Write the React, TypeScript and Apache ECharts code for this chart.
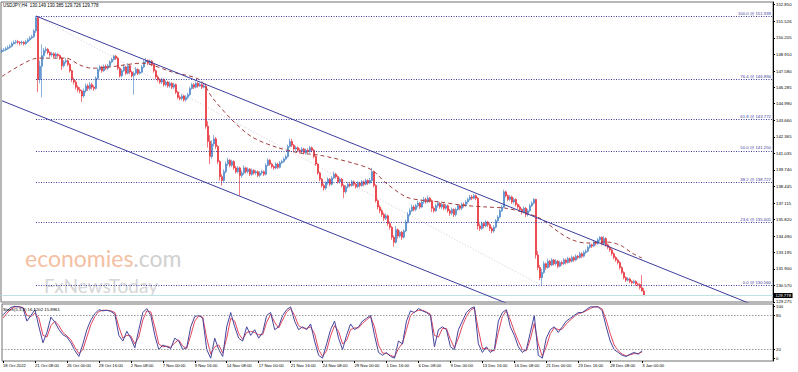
import React, { useEffect, useRef } from 'react';
import * as echarts from 'echarts';

// ---------- data ----------
const firstOpen = 149.1;
const closes = [
  149.20,149.25,149.35,149.45,149.55,149.75,149.85,149.90,149.85,149.80,
  149.85,149.75,149.90,150.05,150.20,150.30,150.75,151.80,146.90,147.95,
  148.80,149.20,149.30,149.05,148.85,148.95,148.75,148.90,148.80,148.60,
  148.00,148.30,148.40,148.10,147.60,146.90,146.70,146.30,146.10,146.00,
  145.60,146.00,146.40,146.20,146.50,146.30,146.20,147.00,147.70,147.90,
  147.60,147.95,147.80,148.00,148.30,148.50,148.75,148.60,147.80,147.20,
  147.60,147.90,147.40,148.00,147.50,147.20,147.40,147.70,147.40,147.50,
  147.90,148.30,148.40,148.20,148.35,148.10,147.60,147.10,146.90,146.70,
  146.90,146.50,146.70,146.40,146.60,146.30,146.50,145.90,145.50,145.40,
  145.60,145.30,145.50,145.70,146.20,146.50,146.30,146.60,146.40,146.50,
  146.30,146.40,143.20,142.00,140.80,141.80,142.20,141.60,140.40,139.20,
  138.90,139.60,140.20,140.50,140.10,140.40,139.90,139.60,139.90,139.30,
  139.50,139.90,139.60,139.80,139.40,139.70,139.50,139.60,139.30,139.50,
  139.60,139.40,140.10,140.50,140.20,140.00,139.90,140.20,139.95,140.30,
  140.40,140.60,140.80,141.60,142.00,141.70,141.40,141.50,141.30,141.20,
  141.40,141.10,141.30,141.20,141.50,141.30,140.80,140.20,139.50,139.00,
  138.50,138.30,138.70,139.00,138.60,139.10,139.40,139.20,138.80,139.00,
  138.50,138.00,138.40,138.60,138.50,138.80,138.60,138.40,138.70,138.50,
  138.80,138.60,138.90,138.70,138.90,139.60,138.50,137.30,136.80,136.50,
  136.20,135.90,136.10,135.50,135.20,134.40,134.00,135.00,134.50,134.80,
  134.40,134.90,135.60,136.20,136.50,136.80,136.60,136.90,137.10,136.80,
  137.20,137.40,137.20,137.50,137.30,136.70,136.50,136.90,137.10,136.80,
  137.00,136.70,136.90,136.50,136.30,136.60,136.20,136.60,136.90,136.70,
  137.00,136.90,137.20,137.40,137.60,137.50,137.70,137.50,135.30,135.10,
  135.50,135.30,135.60,135.40,135.10,134.90,135.20,135.70,136.00,136.50,
  136.80,138.00,137.70,137.40,137.60,137.20,137.40,137.00,136.80,136.60,
  136.40,136.70,136.20,136.50,136.90,137.10,137.40,133.00,132.00,131.20,
  131.60,132.30,132.00,132.50,132.20,132.60,132.30,132.50,132.10,132.40,
  132.30,132.60,132.40,132.70,132.50,132.80,132.60,132.90,132.80,133.10,
  132.90,133.20,133.30,133.60,133.80,133.70,134.00,133.90,134.20,134.40,
  133.90,134.30,133.80,133.60,133.40,133.10,132.80,132.60,132.40,132.00,
  131.60,131.20,131.00,131.10,130.90,130.80,130.90,130.70,130.65,130.40,
  130.149,129.778
];
const highs = [
  149.35,149.40,149.50,149.60,149.70,149.90,150.00,150.05,150.05,149.95,
  150.00,149.95,150.05,150.20,150.35,150.45,150.90,151.94,151.85,148.40,
  149.70,149.40,149.50,149.40,149.15,149.10,149.05,149.05,149.00,148.90,
  148.70,148.45,148.60,148.50,148.20,147.70,147.05,146.85,146.45,146.30,
  146.10,146.20,146.60,146.55,146.70,146.65,146.45,147.15,147.85,148.05,
  148.00,148.10,148.10,148.15,148.45,148.65,148.85,148.85,148.70,147.90,
  147.75,148.10,148.00,148.20,148.10,147.60,147.55,147.90,147.80,147.70,
  148.05,148.45,148.60,148.50,148.50,148.45,148.20,147.70,147.25,147.00,
  147.05,147.00,146.85,146.80,146.75,146.70,146.65,146.60,146.00,145.65,
  145.75,145.70,145.65,145.85,146.35,146.65,146.60,146.75,146.70,146.65,
  146.60,146.60,146.60,143.60,142.50,142.10,142.50,142.35,141.70,140.50,
  139.40,139.80,140.40,140.70,140.60,140.55,140.50,140.05,140.05,140.00,
  139.70,140.10,140.00,139.95,139.90,139.85,139.80,139.75,139.70,139.65,
  139.75,139.70,140.25,140.65,140.60,140.30,140.10,140.35,140.30,140.45,
  140.55,140.75,140.95,141.75,142.25,142.20,141.80,141.65,141.60,141.45,
  141.55,141.50,141.45,141.45,141.65,141.60,141.40,140.90,140.30,139.60,
  139.10,138.65,138.85,139.15,139.10,139.25,139.60,139.50,139.30,139.15,
  139.10,138.60,138.55,138.75,138.75,138.95,138.90,138.70,138.85,138.80,
  138.95,138.90,139.05,139.00,139.10,139.90,139.70,138.60,137.40,136.95,
  136.65,136.35,136.30,136.20,135.65,135.30,134.55,135.30,135.10,134.95,
  134.90,135.05,135.80,136.40,136.70,137.00,136.95,137.05,137.30,137.20,
  137.40,137.60,137.55,137.70,137.60,137.40,136.85,137.05,137.25,137.20,
  137.15,137.10,137.05,137.00,136.65,136.75,136.70,136.75,137.05,137.00,
  137.15,137.15,137.35,137.55,137.75,137.75,137.85,137.80,137.60,135.50,
  135.65,135.60,135.75,135.70,135.50,135.25,135.35,135.85,136.15,136.65,
  136.95,138.18,138.10,137.80,137.75,137.70,137.55,137.50,137.10,136.95,
  136.70,136.85,136.80,136.65,137.05,137.25,137.50,137.45,133.30,132.20,
  131.90,132.50,132.40,132.70,132.60,132.75,132.70,132.65,132.60,132.55,
  132.55,132.75,132.70,132.85,132.80,132.95,132.90,133.05,133.00,133.25,
  133.20,133.35,133.45,133.75,133.95,133.90,134.15,134.10,134.35,134.50,
  134.45,134.50,134.40,133.90,133.70,133.50,133.20,132.90,132.70,132.50,
  132.10,131.70,131.30,131.25,131.20,131.00,131.05,131.00,130.80,130.75,
  131.40,130.385
];
const lows = [
  149.00,149.10,149.15,149.25,149.35,149.45,149.65,149.70,149.70,149.60,
  149.65,149.60,149.65,149.80,149.95,150.10,150.20,150.60,145.90,146.60,
  145.50,148.50,149.00,148.90,148.70,148.70,148.60,148.60,148.65,148.45,
  147.66,147.85,148.15,147.95,147.45,146.70,146.50,146.10,145.90,145.80,
  145.12,145.45,145.85,146.00,146.05,146.10,146.00,146.10,146.90,147.55,
  147.45,147.50,147.65,147.65,147.90,148.20,148.40,148.45,147.65,147.05,
  147.05,147.50,147.25,147.30,147.35,147.05,145.70,147.25,147.25,147.30,
  147.40,147.80,148.20,148.05,148.10,147.95,147.45,146.95,146.75,146.55,
  146.55,146.35,146.35,146.25,146.25,146.15,146.15,145.75,145.35,145.25,
  145.25,145.15,145.15,145.35,145.60,146.10,146.15,146.20,146.25,146.30,
  146.15,146.20,143.00,141.50,140.20,140.60,141.60,141.40,140.20,138.90,
  138.50,138.75,139.45,140.05,139.95,139.95,139.75,139.45,139.45,137.70,
  139.10,139.35,139.45,139.45,139.25,139.25,139.35,139.35,139.15,139.15,
  139.35,139.25,139.30,140.00,140.05,139.85,139.75,139.80,139.80,139.85,
  140.20,140.30,140.50,140.70,141.50,141.55,141.25,141.25,141.15,141.05,
  141.05,140.95,140.95,141.05,141.10,141.15,140.65,140.05,139.35,138.85,
  138.35,138.10,138.15,138.55,138.45,138.50,139.00,139.05,138.65,138.65,
  138.35,137.50,137.85,138.25,138.35,138.40,138.45,138.25,138.30,138.35,
  138.40,138.45,138.50,138.55,138.60,138.80,138.35,137.15,136.60,136.30,
  136.00,135.70,135.75,135.30,135.00,134.20,133.65,133.90,134.30,134.35,
  134.20,134.30,134.80,135.50,136.05,136.40,136.45,136.45,136.75,136.65,
  136.70,137.05,137.05,137.10,137.15,136.40,136.35,136.40,136.75,136.65,
  136.65,136.55,136.55,136.35,136.10,136.15,136.00,136.05,136.50,136.55,
  136.55,136.75,136.80,137.05,137.30,137.35,137.40,137.35,135.00,134.90,
  134.95,135.10,135.20,135.20,134.90,134.70,134.75,135.10,135.55,135.90,
  136.40,136.70,137.55,137.25,137.25,137.05,137.05,136.85,136.65,136.45,
  136.20,136.30,136.00,136.05,136.40,136.80,137.00,132.70,131.80,131.00,
  130.56,131.50,131.80,131.90,132.00,132.10,132.15,132.15,131.95,132.00,
  132.15,132.20,132.25,132.30,132.35,132.40,132.45,132.50,132.65,132.70,
  132.75,132.80,133.05,133.20,133.50,133.55,133.60,133.75,133.80,134.05,
  133.75,133.80,133.65,133.45,133.25,132.95,132.65,132.45,132.25,131.85,
  131.45,131.05,130.85,130.90,130.75,130.65,130.70,130.55,130.50,130.25,
  130.10,129.726
];

// moving average (dashed), read at [bar, price]
const maPoints = [
  [0,147.15],[16,148.55],[20,148.6],[32,148.6],[39,148.05],[45,147.8],[54,147.9],
  [70,148.2],[85,147.5],[99,146.87],[105,145.5],[115,143.7],[125,142.35],[137,141.55],
  [149,141.08],[159,140.9],[175,140.3],[185,139.73],[192,138.7],[202,137.6],[209,137.35],
  [219,137.2],[229,136.96],[242,136.8],[252,136.7],[262,136.32],[269,135.9],[279,134.74],
  [285,134.2],[292,133.94],[302,134.03],[309,133.78],[315,133.15],[320,132.75]
];

// stochastic (5,3,3), read every 2nd bar
const STOCH_STEP = 2;
const stochK = [
  81,88,94,96,95,93,70,80,90,60,
  32,50,77,68,55,46,42,32,18,8,
  30,55,72,83,90,88,89,87,82,45,
  35,52,40,23,55,85,92,80,45,20,
  28,25,22,40,35,20,24,60,78,80,
  75,20,5,40,20,8,60,85,60,40,
  35,60,45,55,40,50,80,85,55,60,
  80,90,95,70,55,60,55,65,35,10,
  5,30,55,70,40,20,45,65,55,60,
  70,75,80,45,15,10,15,8,5,35,
  30,70,88,85,92,88,85,80,25,55,
  60,55,25,20,55,70,85,92,95,30,
  15,25,15,20,70,85,90,60,45,25,
  15,20,50,80,10,5,40,55,60,50,
  60,70,75,80,85,85,90,95,95,95,
  88,60,35,20,15,10,8,12,15,12,
  18
];
const stochD = [
  75,84,91,95,95,94,80,78,84,75,
  45,42,62,70,62,50,44,37,24,13,
  20,42,64,78,87,89,89,88,85,60,
  40,45,44,30,42,72,88,86,60,30,
  25,26,24,32,37,26,22,45,70,79,
  77,40,12,25,28,14,40,75,70,48,
  38,50,52,50,46,46,68,82,68,58,
  72,86,92,80,62,58,57,60,48,20,
  8,18,44,62,52,30,36,55,58,58,
  66,72,78,60,28,14,13,10,7,22,
  31,55,80,86,89,89,86,82,45,42,
  57,57,38,23,40,62,78,89,93,55,
  22,22,19,18,50,78,88,72,52,35,
  20,18,38,66,30,8,25,48,58,55,
  56,65,72,78,83,85,88,92,95,95,
  91,72,48,28,18,12,9,11,13,13,
  16
];

const priceTicks = [152.850,151.526,150.205,148.910,147.580,146.285,144.990,143.660,142.365,141.035,139.740,138.445,137.115,135.820,134.490,133.195,131.900,130.570,129.275];
const xTickLabels = ['18 Oct 2022','21 Oct 08:00','26 Oct 00:00','28 Oct 16:00','2 Nov 08:00','7 Nov 00:00','9 Nov 16:00','14 Nov 08:00','17 Nov 00:00','21 Nov 16:00','24 Nov 08:00','29 Nov 00:00','1 Dec 16:00','6 Dec 08:00','9 Dec 00:00','13 Dec 16:00','16 Dec 08:00','21 Dec 00:00','23 Dec 16:00','28 Dec 08:00','3 Jan 00:00'];
const LABEL_STEP = 16;

const fibPct = ['100.0','76.4','61.8','50.0','38.2','23.6','0.0'];
const fibValues = [151.939,146.894,143.772,141.250,138.727,135.605,130.560];
const fibHighBar = 17;
const fibLowBar = 270;
const bidPrice = 129.778;

const channelUpper = [[17,151.939],[385,128.44]];
const channelLower = [[0,145.22],[260,128.68]];

const stochLabelVals = [100,80,20,0];
const stochLevels = [80,20];

// ---------- styling ----------
const N_SLOTS = 386;
const Y_MIN = 129.268;
const Y_MAX = 153.05;
const FONT = 'Liberation Sans';
const BULL = '#3f7fc4';
const BEAR = '#e8202a';
const NAVY = '#3c3c9e';

function buildOption(): any {
  const categories = Array.from({ length: N_SLOTS }, (_, i) => String(i));
  const ohlc = closes.map((c, i) => {
    const o = i === 0 ? firstOpen : closes[i - 1];
    const col = c >= o ? BULL : BEAR;
    return {
      value: [o, c, lows[i], highs[i]],
      itemStyle: { color: col, color0: col, borderColor: col, borderColor0: col, borderColorDoji: col },
    };
  });
  const isLabel = (i: number) => i % LABEL_STEP === 0 && i / LABEL_STEP < xTickLabels.length;

  const fibLines = fibValues.map((v, k) => [
    {
      coord: [fibHighBar, v],
      lineStyle: { color: NAVY, type: [1, 1.5], width: 1 },
      label: {
        show: true, position: 'insideEndTop', distance: 1,
        formatter: `${fibPct[k]} @ ${v.toFixed(3)}`,
        fontSize: 4.3, color: NAVY, fontFamily: FONT,
      },
    },
    { coord: [N_SLOTS - 1, v] },
  ]);

  const stochPos = [95.5, 80, 20, 4.5];

  return {
    animation: false,
    backgroundColor: '#ffffff',
    textStyle: { fontFamily: FONT },
    grid: [
      { left: 1, top: 2, width: 772, height: 300, show: true, borderColor: '#707070', borderWidth: 1, backgroundColor: 'transparent' },
      { left: 1, top: 304, width: 772, height: 57, show: true, borderColor: '#707070', borderWidth: 1, backgroundColor: 'transparent' },
    ],
    xAxis: [
      {
        type: 'category', gridIndex: 0, data: categories, boundaryGap: true,
        axisLine: { show: false }, axisTick: { show: false }, axisLabel: { show: false }, splitLine: { show: false },
      },
      {
        type: 'category', gridIndex: 1, data: categories, boundaryGap: true, position: 'bottom',
        axisLine: { show: false },
        axisTick: { show: true, alignWithLabel: true, interval: (i: number) => isLabel(i), length: 2, lineStyle: { color: '#000' } },
        axisLabel: {
          show: true, interval: (i: number) => isLabel(i), align: 'left', margin: 2,
          formatter: (_v: string, i: number) => xTickLabels[i / LABEL_STEP] ?? '',
          fontSize: 4.2, color: '#000', fontFamily: FONT,
        },
        splitLine: { show: false },
      },
    ],
    yAxis: [
      {
        type: 'value', gridIndex: 0, position: 'right', min: Y_MIN, max: Y_MAX, scale: true,
        axisLine: { show: true, lineStyle: { color: '#000', width: 1 } },
        axisTick: { show: true, length: 2, customValues: priceTicks, lineStyle: { color: '#000' } },
        axisLabel: { show: true, customValues: priceTicks, formatter: (v: number) => v.toFixed(3), fontSize: 4.3, color: '#000', margin: 3, fontFamily: FONT },
        splitLine: { show: false },
      },
      {
        type: 'value', gridIndex: 1, position: 'right', min: 0, max: 100,
        axisLine: { show: true, lineStyle: { color: '#000', width: 1 } },
        axisTick: { show: true, length: 2, customValues: stochPos, lineStyle: { color: '#000' } },
        axisLabel: {
          show: true, customValues: stochPos,
          formatter: (v: number) => String(stochLabelVals[stochPos.indexOf(v)] ?? ''),
          fontSize: 4.3, color: '#000', margin: 3, fontFamily: FONT,
        },
        splitLine: { show: false },
      },
    ],
    series: [
      {
        type: 'line', xAxisIndex: 0, yAxisIndex: 0, name: 'fibDiag',
        data: [[fibHighBar, fibValues[0]], [fibLowBar, fibValues[fibValues.length - 1]]],
        showSymbol: false, symbol: 'none', silent: true,
        lineStyle: { color: '#d9c3d6', width: 1, type: [1, 2] }, z: 1,
      },
      {
        type: 'candlestick', xAxisIndex: 0, yAxisIndex: 0, data: ohlc, barWidth: 1.6,
        itemStyle: { color: BULL, color0: BEAR, borderColor: BULL, borderColor0: BEAR, borderWidth: 0.6 },
        markLine: {
          silent: true, symbol: ['none', 'none'], animation: false,
          data: [
            ...fibLines,
            {
              yAxis: bidPrice,
              lineStyle: { color: '#bfe3e3', type: 'solid', width: 1 },
              label: {
                show: true, position: 'end', distance: 1, formatter: bidPrice.toFixed(3),
                color: '#fff', backgroundColor: '#000', padding: [0.5, 1.5], fontSize: 4.3, fontFamily: FONT,
              },
            },
          ],
        },
        z: 3,
      },
      {
        type: 'line', xAxisIndex: 0, yAxisIndex: 0, data: maPoints, smooth: 0.3,
        showSymbol: false, symbol: 'none', silent: true,
        lineStyle: { color: '#a2413f', width: 1, type: [4, 3] }, z: 4,
      },
      {
        type: 'line', xAxisIndex: 0, yAxisIndex: 0, data: channelUpper,
        showSymbol: false, symbol: 'none', silent: true, clip: true,
        lineStyle: { color: NAVY, width: 1 }, z: 5,
      },
      {
        type: 'line', xAxisIndex: 0, yAxisIndex: 0, data: channelLower,
        showSymbol: false, symbol: 'none', silent: true, clip: true,
        lineStyle: { color: NAVY, width: 1 }, z: 5,
      },
      {
        type: 'line', xAxisIndex: 1, yAxisIndex: 1,
        data: stochD.map((v, j) => [j * STOCH_STEP, v]),
        showSymbol: false, symbol: 'none', silent: true,
        lineStyle: { color: '#e2455f', width: 1 }, z: 3,
        markLine: {
          silent: true, symbol: ['none', 'none'],
          lineStyle: { color: '#9a9a9a', type: [1.5, 1.5], width: 1 },
          label: { show: false },
          data: stochLevels.map((v) => ({ yAxis: v })),
        },
      },
      {
        type: 'line', xAxisIndex: 1, yAxisIndex: 1,
        data: stochK.map((v, j) => [j * STOCH_STEP, v]),
        showSymbol: false, symbol: 'none', silent: true,
        lineStyle: { color: '#45459c', width: 1 }, z: 4,
      },
    ],
    graphic: [
      {
        type: 'text', x: 25, y: 258, z: 0, silent: true,
        style: {
          text: '{a|economies}{b|.com}',
          fontSize: 23, fontFamily: 'Lato', verticalAlign: 'middle', lineHeight: 20,
          rich: {
            a: { fill: '#f5c0a2', fontSize: 23, fontFamily: 'Lato', lineHeight: 20 },
            b: { fill: '#d0d0d0', fontSize: 23, fontFamily: 'Lato', lineHeight: 20 },
          },
        },
      },
      {
        type: 'text', x: 44, y: 285, z: 0, silent: true,
        style: { text: 'FxNewsToday', fontSize: 19, fontFamily: 'Lato', fill: '#d6d6d6', verticalAlign: 'middle', lineHeight: 16 },
      },
      {
        type: 'text', x: 3, y: 5.5, z: 10, silent: true,
        style: { text: 'USDJPY,H4  130.149 130.385 129.726 129.778', fontSize: 4.5, fontFamily: FONT, fill: '#000', verticalAlign: 'middle' },
      },
      {
        type: 'text', x: 3, y: 309.5, z: 10, silent: true,
        style: { text: 'Stoch(5,3,3) 16.1202 15.8961', fontSize: 4.3, fontFamily: FONT, fill: '#000', verticalAlign: 'middle' },
      },
    ],
  };
}

export default function App() {
  const ref = useRef<HTMLDivElement>(null);
  useEffect(() => {
    if (!ref.current) return;
    const chart = echarts.init(ref.current, null, { renderer: 'svg' });
    chart.setOption(buildOption());
    return () => chart.dispose();
  }, []);
  return (
    <div
      ref={ref}
      style={{ position: 'fixed', left: 0, top: 0, width: 798, height: 372, background: '#fff' }}
    />
  );
}
